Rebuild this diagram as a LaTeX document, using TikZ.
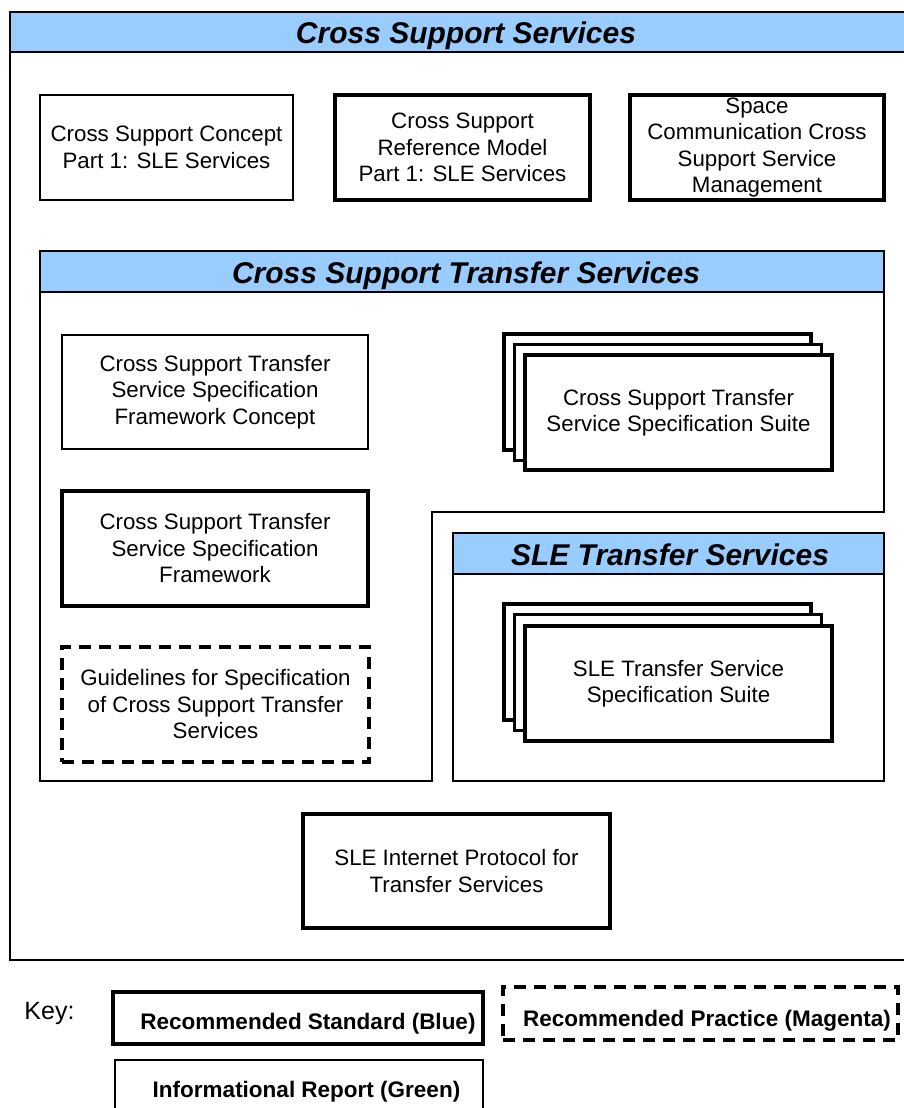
\documentclass[tikz,border=0pt]{standalone}
\usepackage{fontspec}
\setmainfont{Liberation Sans}
\definecolor{hdrblue}{RGB}{153,204,255}
\begin{document}
\begin{tikzpicture}[x=1pt,y=-1pt,
  frame/.style={draw=black, line width=1.2pt},
  hdrbar/.style={draw=black, line width=1.2pt, fill=hdrblue},
  hdrtext/.style={font=\fontsize{30}{34}\selectfont\bfseries\itshape, inner sep=0pt},
  body/.style={font=\fontsize{22.3}{26.5}\selectfont, align=center, inner sep=0pt},
  thinbox/.style={body, draw=black, line width=1.2pt, fill=white},
  thickbox/.style={body, draw=black, line width=3.4pt, fill=white},
  dashbox/.style={body, draw=black, line width=3.8pt, dash pattern=on 12pt off 8pt, fill=white},
  keytext/.style={font=\fontsize{22.5}{26}\selectfont\bfseries, inner sep=0pt, anchor=base},
  stackbox/.style={draw=black, line width=3.4pt, fill=white}
]
\useasboundingbox (0,0) rectangle (904,1108);

% Outer container
\draw[frame] (10,12) rectangle (924,960);
\draw[hdrbar] (10,12) rectangle (924,52);
\node[hdrtext, anchor=base] (css) at (466,44) {Cross Support Services};

% Top row
\node[thinbox, minimum width=253pt, minimum height=105pt] (concept) at (166.5,147.5)
  {Cross Support Concept\\Part 1: SLE Services};
\node[thickbox, minimum width=255pt, minimum height=105pt] (refmodel) at (462.5,147.5)
  {Cross Support\\Reference Model\\Part 1: SLE Services};
\node[thickbox, minimum width=254pt, minimum height=105pt] (mgmt) at (757,147.5)
  {Space\\Communication Cross\\Support Service\\Management};

% Cross Support Transfer Services container
\draw[frame] (40,251) -- (884,251) -- (884,512) -- (432,512) -- (432,781) -- (40,781) -- cycle;
\draw[hdrbar] (40,251) rectangle (884,292);
\node[hdrtext, anchor=base] (csts) at (466,283) {Cross Support Transfer Services};

\node[thinbox, minimum width=306pt, minimum height=114pt] (fwconcept) at (215,392)
  {Cross Support Transfer\\Service Specification\\Framework Concept};
\node[thickbox, minimum width=306pt, minimum height=115pt] (framework) at (215,548.5)
  {Cross Support Transfer\\Service Specification\\Framework};
\node[dashbox, minimum width=307pt, minimum height=115pt] (guidelines) at (215.5,704.5)
  {Guidelines for Specification\\of Cross Support Transfer\\Services};

% CSTS suite stack
\draw[stackbox] (504,334) rectangle (811,450);
\draw[stackbox] (514.5,344.5) rectangle (821.5,460.5);
\node[thickbox, minimum width=307pt, minimum height=115pt] (cstssuite) at (678.5,412.5)
  {Cross Support Transfer\\Service Specification Suite};

% SLE Transfer Services container
\draw[frame] (453,533) rectangle (884,781);
\draw[hdrbar] (453,533) rectangle (884,574);
\node[hdrtext, anchor=base] (sle) at (670,565) {SLE Transfer Services};

\draw[stackbox] (504,604) rectangle (811,720);
\draw[stackbox] (514.5,614.5) rectangle (821.5,730.5);
\node[thickbox, minimum width=307pt, minimum height=115pt] (slesuite) at (678.5,683.5)
  {SLE Transfer Service\\Specification Suite};

% SLE Internet Protocol
\node[thickbox, minimum width=307pt, minimum height=114pt] (sleip) at (456.5,871)
  {SLE Internet Protocol for\\Transfer Services};

% Key
\node[font=\fontsize{25}{28}\selectfont, inner sep=0pt, anchor=base] (key) at (49.5,1019) {Key:};
\node[draw=black, line width=3.4pt, minimum width=370pt, minimum height=52pt] (std) at (298,1018) {};
\node[keytext] (stdtext) at (308,1029) {Recommended Standard (Blue)};
\node[draw=black, line width=3.8pt, dash pattern=on 12pt off 8pt, minimum width=395pt, minimum height=53pt] (prac) at (700.5,1013.5) {};
\node[keytext] (practext) at (707,1026) {Recommended Practice (Magenta)};
\node[draw=black, line width=1.2pt, minimum width=368pt, minimum height=70pt] (info) at (299,1095) {};
\node[keytext] (infotext) at (306.5,1097) {Informational Report (Green)};
\end{tikzpicture}
\end{document}
